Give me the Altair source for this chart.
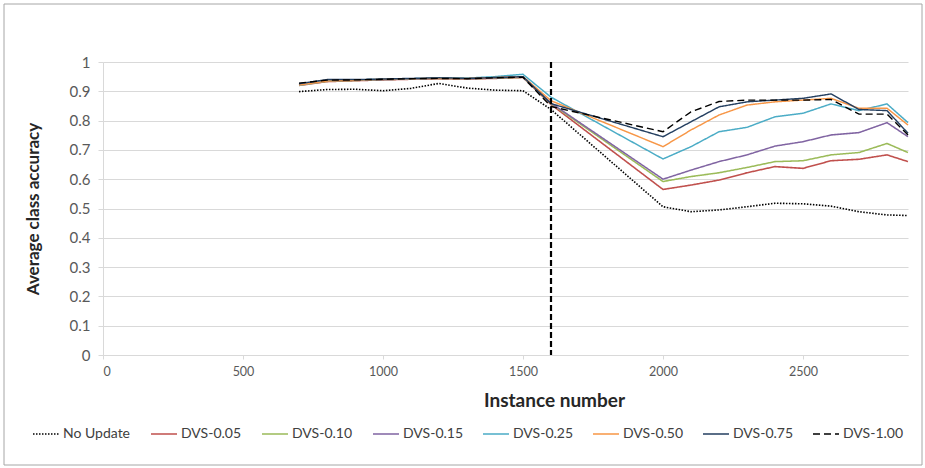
import altair as alt
import pandas as pd

# ---- data ----
instances = [700, 800, 900, 1000, 1100, 1200, 1300, 1400, 1500, 1600,
             2000, 2100, 2200, 2300, 2400, 2500, 2600, 2700, 2800, 2875]

no_update = [0.899, 0.906, 0.907, 0.902, 0.910, 0.927, 0.911, 0.904, 0.902, 0.838,
             0.506, 0.489, 0.495, 0.506, 0.518, 0.516, 0.508, 0.489, 0.478, 0.476]
dvs_005 = [0.920, 0.933, 0.936, 0.939, 0.941, 0.943, 0.942, 0.944, 0.947, 0.855,
           0.565, 0.580, 0.597, 0.622, 0.643, 0.637, 0.663, 0.668, 0.683, 0.660]
dvs_010 = [0.921, 0.934, 0.937, 0.940, 0.942, 0.944, 0.943, 0.945, 0.948, 0.858,
           0.592, 0.609, 0.622, 0.640, 0.660, 0.663, 0.683, 0.691, 0.722, 0.691]
dvs_015 = [0.922, 0.935, 0.938, 0.940, 0.942, 0.944, 0.943, 0.946, 0.949, 0.860,
           0.600, 0.631, 0.660, 0.683, 0.713, 0.728, 0.751, 0.759, 0.793, 0.745]
dvs_025 = [0.920, 0.936, 0.939, 0.941, 0.943, 0.945, 0.945, 0.950, 0.958, 0.880,
           0.669, 0.711, 0.762, 0.777, 0.813, 0.825, 0.857, 0.834, 0.857, 0.793]
dvs_050 = [0.921, 0.935, 0.938, 0.941, 0.943, 0.944, 0.944, 0.947, 0.950, 0.868,
           0.711, 0.768, 0.819, 0.853, 0.864, 0.870, 0.876, 0.842, 0.842, 0.785]
dvs_075 = [0.926, 0.940, 0.940, 0.942, 0.944, 0.946, 0.944, 0.947, 0.950, 0.858,
           0.745, 0.796, 0.847, 0.864, 0.870, 0.876, 0.891, 0.838, 0.834, 0.757]
dvs_100 = [0.928, 0.938, 0.939, 0.941, 0.943, 0.944, 0.943, 0.946, 0.948, 0.848,
           0.762, 0.830, 0.865, 0.870, 0.870, 0.870, 0.872, 0.822, 0.822, 0.751]

series_names = ["No Update", "DVS-0.05", "DVS-0.10", "DVS-0.15",
                "DVS-0.25", "DVS-0.50", "DVS-0.75", "DVS-1.00"]
series_values = [no_update, dvs_005, dvs_010, dvs_015,
                 dvs_025, dvs_050, dvs_075, dvs_100]

x_ticks = [0, 500, 1000, 1500, 2000, 2500]
y_ticks = [0, 0.1, 0.2, 0.3, 0.4, 0.5, 0.6, 0.7, 0.8, 0.9, 1.0]
drift_point = [1600]

# ---- styles ----
colors = ["#000000", "#C0504D", "#9BBB59", "#8064A2",
          "#4BACC6", "#F79646", "#243F60", "#000000"]
dashes = [[1.5, 1.5], [1, 0], [1, 0], [1, 0], [1, 0], [1, 0], [1, 0], [7, 4]]
widths = [1.6, 1.4, 1.4, 1.4, 1.4, 1.6, 1.8, 2.6]

rows = []
for name, vals in zip(series_names, series_values):
    for xi, v in zip(instances, vals):
        rows.append({"instance": xi, "accuracy": v, "series": name})
df = pd.DataFrame(rows)

FONT = "Lato"
W, H = 805, 293

x_scale = alt.Scale(domain=[0, 2875], nice=False, zero=False)
y_scale = alt.Scale(domain=[0, 1], nice=False)

legend = alt.Legend(
    title=None, orient="none", legendX=-71, legendY=358, direction="horizontal",
    symbolType="stroke", symbolSize=676, columnPadding=16, labelOffset=3,
    labelFontSize=14, labelFont=FONT, labelColor="#404040",
)

lines = alt.Chart(df).mark_line(clip=False).encode(
    x=alt.X("instance:Q", scale=x_scale,
            axis=alt.Axis(values=x_ticks, format="d", title="Instance number",
                          grid=False, tickSize=4, tickColor="#d9d9d9",
                          domainColor="#d9d9d9", labelFontSize=12.5,
                          labelColor="#595959", labelPadding=6,
                          titleFontSize=19, titleFontWeight="bold",
                          titleColor="#262626", titlePadding=14, titleX=451,
                          labelFont=FONT, titleFont=FONT)),
    y=alt.Y("accuracy:Q", scale=y_scale,
            axis=alt.Axis(values=y_ticks, format=".1~f",
                          title="Average class accuracy",
                          grid=True, gridColor="#d9d9d9", tickSize=5,
                          tickColor="#d9d9d9", domainColor="#d9d9d9",
                          labelFontSize=15, labelColor="#595959", labelPadding=8,
                          titleFontSize=17, titleFontWeight="bold",
                          titleColor="#262626", titlePadding=27, labelFont=FONT,
                          titleFont=FONT)),
    color=alt.Color("series:N", scale=alt.Scale(domain=series_names, range=colors),
                    legend=legend),
    strokeDash=alt.StrokeDash("series:N", scale=alt.Scale(domain=series_names, range=dashes),
                              legend=legend),
    strokeWidth=alt.StrokeWidth("series:N", scale=alt.Scale(domain=series_names, range=widths),
                                legend=legend),
    order=alt.Order("instance:Q"),
)

drift = alt.Chart(pd.DataFrame({"instance": drift_point})).mark_rule(
    color="#000000", strokeWidth=2.2, strokeDash=[6, 3]
).encode(x=alt.X("instance:Q", scale=x_scale))

border = alt.Chart(pd.DataFrame({"a": [0]})).mark_rect(
    fill=None, stroke="#a6a6a6", strokeWidth=1
).encode(x=alt.value(-99), x2=alt.value(819), y=alt.value(-58), y2=alt.value(403))

chart = alt.layer(border, lines, drift).properties(
    width=W, height=H,
    autosize=alt.AutoSizeParams(type="none"),
    padding={"left": 103, "top": 62, "right": 17, "bottom": 113},
    background="#ffffff",
).configure_view(stroke=None)

chart.save("out.html", embed_options={"renderer": "svg", "actions": False})
